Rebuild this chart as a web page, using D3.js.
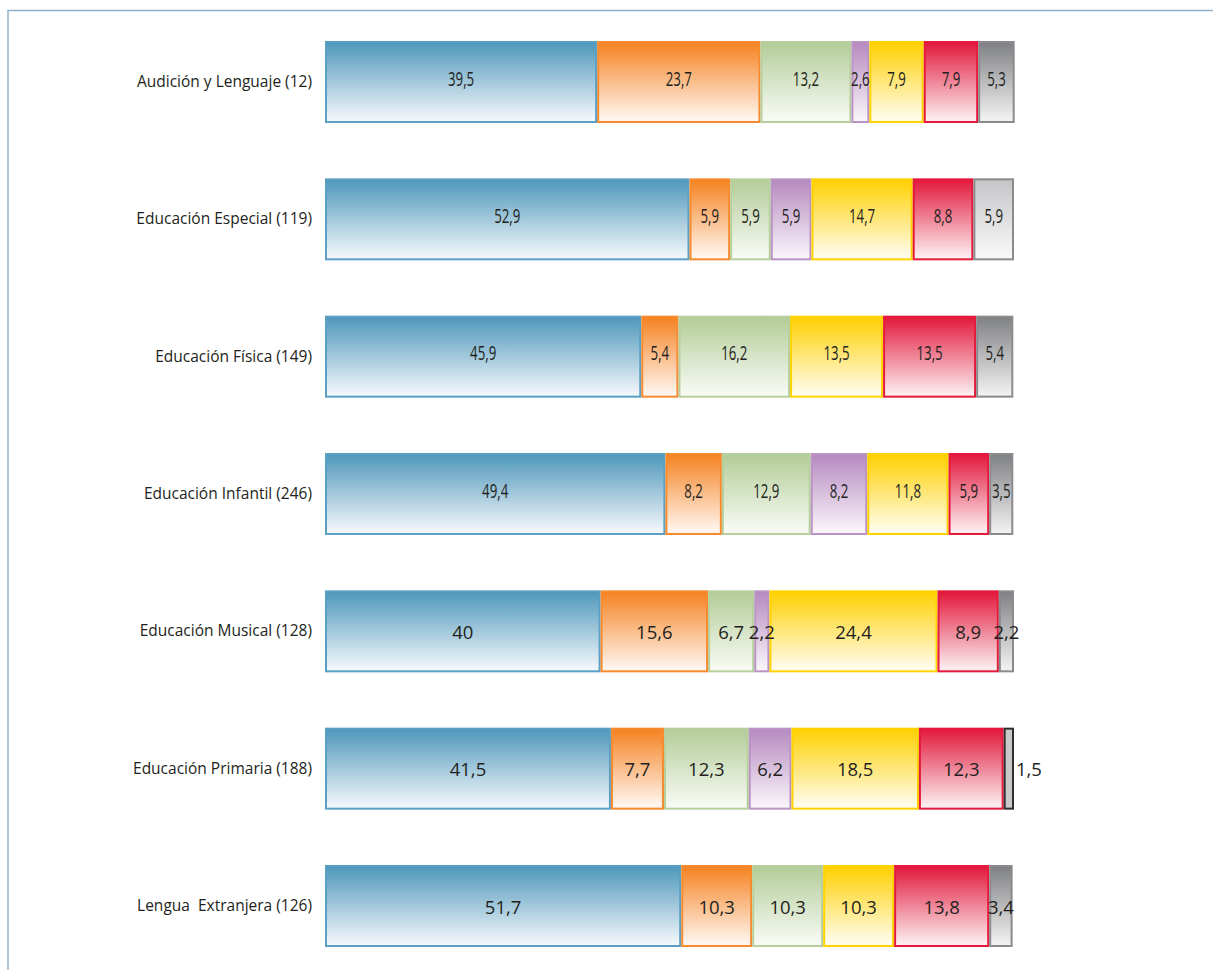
<!DOCTYPE html>
<html>
<head>
<meta charset="utf-8">
<script src="https://cdn.jsdelivr.net/npm/d3@7"></script>
<style>
  html, body { margin: 0; padding: 0; background: #fff; }
  svg { display: block; }
  text { white-space: pre; }
</style>
</head>
<body>
<svg id="chart" width="1213" height="970"></svg>
<script>
// Specialities (number of respondents in brackets)
const categories = [
  "Audición y Lenguaje (12)",
  "Educación Especial (119)",
  "Educación Física (149)",
  "Educación Infantil (246)",
  "Educación Musical (128)",
  "Educación Primaria (188)",
  "Lengua  Extranjera (126)"
];

// Percentage of each answer group, one array per series (null = no segment)
const seriesBlue   = [39.5, 52.9, 45.9, 49.4, 40,   41.5, 51.7];
const seriesOrange = [23.7, 5.9,  5.4,  8.2,  15.6, 7.7,  10.3];
const seriesGreen  = [13.2, 5.9,  16.2, 12.9, 6.7,  12.3, 10.3];
const seriesPurple = [2.6,  5.9,  null, 8.2,  2.2,  6.2,  null];
const seriesYellow = [7.9,  14.7, 13.5, 11.8, 24.4, 18.5, 10.3];
const seriesRed    = [7.9,  8.8,  13.5, 5.9,  8.9,  12.3, 13.8];
const seriesGray   = [5.3,  5.9,  5.4,  3.5,  2.2,  1.5,  3.4];

// Rows whose value labels use the narrow face
const narrowLabelRows = [true, true, true, true, false, false, false];

const seriesList = [
  { key: "blue",   values: seriesBlue,   top: "#4e97bb", bottom: "#f1f6fa", stroke: "#5a9fc4" },
  { key: "orange", values: seriesOrange, top: "#f58220", bottom: "#fff5ee", stroke: "#f68a2e" },
  { key: "green",  values: seriesGreen,  top: "#b3cc98", bottom: "#f7faf3", stroke: "#b6cf9c" },
  { key: "purple", values: seriesPurple, top: "#b689bf", bottom: "#f8f3f9", stroke: "#b994c4" },
  { key: "yellow", values: seriesYellow, top: "#ffd000", bottom: "#fffcec", stroke: "#ffd200" },
  { key: "red",    values: seriesRed,    top: "#e2173b", bottom: "#fcecee", stroke: "#e4193c" },
  { key: "gray",   values: seriesGray,   top: "#7f8083", bottom: "#f0f0f0", stroke: "#8b8b8e" }
];

// Alternate looks for a few grey segments, by row
const grayVariants = {
  1: { key: "graylight", top: "#c4c5c7", bottom: "#f7f7f7", stroke: "#8b8b8e" },
  5: { key: "graysolid", top: "#c9c9c9", bottom: "#c9c9c9", stroke: "#2f2f2f" }
};

const svg = d3.select("#chart");

// Outer frame (top and left rules)
svg.append("path")
  .attr("d", "M8,970 V10.5 H1213")
  .attr("fill", "none")
  .attr("stroke", "#8eb0c8")
  .attr("stroke-width", 1.5);

// Vertical gradients, dark at the top fading to near white
const defs = svg.append("defs");
const styles = seriesList.concat(Object.values(grayVariants));
styles.forEach(s => {
  const g = defs.append("linearGradient")
    .attr("id", "grad-" + s.key)
    .attr("x1", 0).attr("y1", 0).attr("x2", 0).attr("y2", 1);
  g.append("stop").attr("offset", "0%").attr("stop-color", s.top);
  g.append("stop").attr("offset", "96%").attr("stop-color", s.bottom);
});

const x = d3.scaleLinear().domain([0, 100]).range([325, 1014]);
const y = d3.scaleBand()
  .domain(categories)
  .range([13.33, 974.67])
  .paddingInner(0.403)
  .paddingOuter(0.2015);

// Build stacked segments
const segments = [];
categories.forEach((cat, i) => {
  let acc = 0;
  seriesList.forEach(s => {
    const v = s.values[i];
    if (v == null) return;
    const look = (s.key === "gray" && grayVariants[i]) ? grayVariants[i] : s;
    segments.push({ cat, row: i, look, x0: acc, x1: acc + v, value: v });
    acc += v;
  });
});

const bars = svg.append("g");
bars.selectAll("rect")
  .data(segments)
  .join("rect")
  .attr("x", d => x(d.x0) + 1)
  .attr("y", d => y(d.cat) + 1)
  .attr("width", d => Math.max(0, x(d.x1) - x(d.x0) - 2))
  .attr("height", y.bandwidth() - 2)
  .attr("fill", d => "url(#grad-" + d.look.key + ")")
  .attr("stroke", d => d.look.stroke)
  .attr("stroke-width", 2);

// Value labels (decimal comma); very thin segments get their label just past the bar end
const fmt = v => String(v).replace(".", ",");
const isThin = d => x(d.x1) - x(d.x0) < 12;
svg.append("g")
  .selectAll("text")
  .data(segments)
  .join("text")
  .attr("transform", d => {
    const cx = isThin(d) ? x(d.x1) + 2 : (x(d.x0) + x(d.x1)) / 2;
    const cy = y(d.cat) + y.bandwidth() / 2;
    return narrowLabelRows[d.row]
      ? `translate(${cx},${cy - 4}) scale(0.68,1)`
      : `translate(${cx},${cy})`;
  })
  .attr("text-anchor", d => isThin(d) ? "start" : "middle")
  .attr("dominant-baseline", "central")
  .attr("fill", "#231f20")
  .style("font-family", "'Open Sans', 'Noto Sans', sans-serif")
  .style("font-size", d => narrowLabelRows[d.row] ? "19.5px" : "18.5px")
  .text(d => fmt(d.value));

// Category axis on the left
const yAxis = d3.axisLeft(y).tickSize(0).tickPadding(13);
const axisG = svg.append("g")
  .attr("transform", "translate(325,0)")
  .call(yAxis);
axisG.select(".domain").remove();
axisG.selectAll("text")
  .attr("fill", "#231f20")
  .style("font-family", "'Open Sans', 'Noto Sans', sans-serif")
  .style("font-size", "15.5px");
</script>
</body>
</html>
